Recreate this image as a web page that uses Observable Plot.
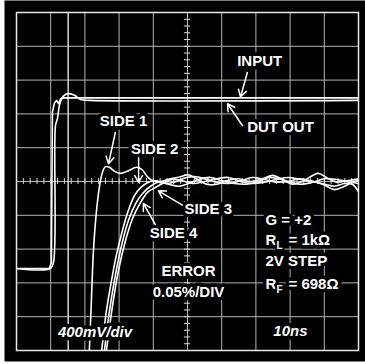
<!DOCTYPE html>
<html><head><meta charset="utf-8">
<script src="https://cdn.jsdelivr.net/npm/d3@7"></script>
<script src="https://cdn.jsdelivr.net/npm/@observablehq/plot@0.6"></script>
<style>html,body{margin:0;padding:0;background:#fff;}</style>
</head><body><div id="chart"></div>
<script>
// time axis: 10 ns/div, voltage: 400 mV/div, error: 0.05 %/div
const timeDivs = [0, 10, 20, 30, 40, 50, 60, 70, 80, 90, 100];
const voltDivs = [-2, -1.6, -1.2, -0.8, -0.4, 0, 0.4, 0.8, 1.2, 1.6, 2];
const markerT = 15.1;

const inputT = [0, 9.6, 10.2, 10.5, 11.1, 11.7, 12.3, 12.9, 14, 100];
const inputV = [-1.03, -1.03, -0.96, 0.82, 0.93, 0.96, 0.92, 0.98, 0.99, 0.99];
const dutT = [0, 9.9, 10.8, 11.4, 12.0, 12.6, 13.7, 15.2, 17.0, 18.7, 21.6, 100];
const dutV = [-1.03, -1.03, -0.96, 0.66, 0.75, 0.91, 1.01, 1.04, 1.02, 0.97, 0.96, 0.96];

const side1T = [20.9, 21.3, 21.9, 22.5, 23.4, 24.3, 25.1, 26.0, 27.2, 28.7, 30.4, 32.7, 35.1, 36.6, 38.3, 39.8, 42, 45, 48, 50.3, 52.6, 55.6, 58.5, 61.4, 64.9, 68.4, 71.9, 74.9, 77.8, 80.7, 83.6, 86.6, 88.3, 90.6, 93.6, 96.5, 100];
const side1E = [-0.3, -0.25, -0.176, -0.102, -0.043, -0.006, 0.013, 0.022, 0.021, 0.015, 0.012, 0.016, 0.021, 0.018, 0.007, 0.001, 0, 0.004, 0.007, 0.010, 0.004, -0.004, -0.004, 0.001, 0.004, 0, 0.004, 0.009, 0.003, -0.004, 0, 0.009, 0.012, 0.006, -0.001, 0.001, 0.004];
const side2T = [23.7, 24.9, 26.3, 27.8, 29.2, 31.0, 32.7, 34.5, 36.3, 38.6, 40.9, 43.9, 46.8, 49.7, 52.6, 55.6, 58.5, 62.0, 65.5, 69.0, 72.5, 76.0, 79.5, 82.5, 86.0, 89.5, 93.0, 95.9, 98.2, 100];
const side2E = [-0.3, -0.25, -0.191, -0.146, -0.109, -0.072, -0.043, -0.021, -0.009, -0.001, 0.001, -0.003, 0, 0.006, 0.007, 0.003, -0.001, -0.003, 0.001, 0.006, 0.003, -0.001, 0, 0.004, 0.001, -0.004, -0.012, -0.007, -0.001, 0.001];
const side3T = [24.4, 25.7, 27.2, 28.9, 30.7, 32.7, 34.8, 36.8, 39.2, 41.5, 44.4, 47.4, 50.3, 53.2, 56.7, 60.2, 63.7, 67.3, 70.8, 73.7, 76.6, 80.1, 83.0, 86.6, 90.1, 93.6, 96.5, 100];
const side3E = [-0.3, -0.25, -0.191, -0.139, -0.095, -0.058, -0.033, -0.018, -0.007, -0.001, -0.004, -0.007, -0.003, 0.003, 0.006, 0.001, -0.003, -0.004, 0, 0.006, 0.004, -0.001, -0.004, -0.001, 0.004, 0.003, 0, -0.003];
const side4T = [25.0, 26.3, 28.1, 29.8, 31.9, 33.9, 36.3, 38.3, 40.6, 42.7, 45.6, 48.5, 51.5, 55.0, 58.5, 62.0, 65.5, 69.0, 72.5, 76.0, 79.5, 83.0, 86.6, 90.1, 93.0, 95.9, 98.2, 100];
const side4E = [-0.3, -0.25, -0.183, -0.132, -0.087, -0.055, -0.031, -0.016, -0.009, -0.003, 0.003, 0.001, -0.003, 0, 0.004, 0.006, 0, -0.003, -0.001, 0.003, 0.006, 0.003, 0, -0.004, -0.007, -0.003, -0.004, -0.015];

const labelText = ["INPUT", "DUT OUT", "SIDE 1", "SIDE 2", "SIDE 3", "SIDE 4", "ERROR", "0.05%/DIV"];
const labelT = [71.1, 77.2, 31.3, 40.4, 56.1, 45.9, 50.3, 50.3];
const labelV = [1.42, 0.64, 0.71, 0.38, -0.33, -0.615, -1.065, -1.314];

const scaleText = ["400mV/div", "10ns"];
const scaleT = [22.95, 80.1];
const scaleV = [-1.787, -1.775];

const condT = 72.8;
const condMain = ["G = +2", "R", "2V STEP", "R"];
const condMainV = [-0.462, -0.698, -0.947, -1.219];
const condSub = ["L", "F"];
const condSubV = [-0.698, -1.219];
const condRest = ["= 1kΩ", "= 698Ω"];

const arrowFromT = [67.5, 66.1, 28.9, 35.7, 48.5, 40.6];
const arrowFromV = [1.29, 0.66, 0.58, 0.28, -0.28, -0.51];
const arrowToT = [65.5, 61.7, 26.9, 35.7, 41.5, 37.1];
const arrowToV = [1.0, 0.92, 0.21, -0.01, -0.11, -0.26];

const voltsPerPercent = 0.4 / 0.05;
const zip = (ts, vs) => ts.map((t, i) => ({t, v: vs[i]}));
const zipErr = (ts, es) => ts.map((t, i) => ({t, v: es[i] * voltsPerPercent}));
const errTraces = [zipErr(side1T, side1E), zipErr(side2T, side2E), zipErr(side3T, side3E), zipErr(side4T, side4E)];
const labels = labelText.map((s, i) => ({s, t: labelT[i], v: labelV[i]}));
const scales = scaleText.map((s, i) => ({s, t: scaleT[i], v: scaleV[i]}));
const arrows = arrowFromT.map((t, i) => ({x1: t, y1: arrowFromV[i], x2: arrowToT[i], y2: arrowToV[i]}));
const minorT = d3.range(0, 100.01, 2);
const minorV = d3.range(-2, 2.001, 0.08);

const font = "Liberation Sans, Arial, Helvetica, sans-serif";
const txt = {fill: "white", stroke: "black", strokeWidth: 7, fontWeight: "bold", fontSize: 15, fontFamily: font};

const chart = Plot.plot({
  width: 365, height: 364,
  marginLeft: 16, marginRight: 7, marginTop: 12, marginBottom: 14,
  x: {domain: [0, 100], axis: null},
  y: {domain: [-2, 2], axis: null},
  style: {background: "white"},
  marks: [
    Plot.frame({fill: "black", stroke: "none", insetLeft: -12, insetTop: -12, insetRight: -7, insetBottom: -11}),
    Plot.ruleX(timeDivs, {stroke: "#b4b4b4", strokeWidth: 1}),
    Plot.ruleY(voltDivs, {stroke: "#b4b4b4", strokeWidth: 1}),
    Plot.ruleX([markerT], {stroke: "#f4f4f4", strokeWidth: 1.3}),
    Plot.ruleX(minorT, {x: d => d, y1: -0.035, y2: 0.035, stroke: "#dddddd"}),
    Plot.ruleY(minorV, {y: d => d, x1: 49.1, x2: 50.9, stroke: "#dddddd"}),
    Plot.frame({stroke: "#e8e8e8", strokeWidth: 1.5}),
    Plot.line(zip(inputT, inputV), {x: "t", y: "v", stroke: "white", strokeWidth: 1.6, clip: true}),
    Plot.line(zip(dutT, dutV), {x: "t", y: "v", stroke: "white", strokeWidth: 1.6, curve: "catmull-rom", clip: true}),
    ...errTraces.map(d => Plot.line(d, {x: "t", y: "v", stroke: "white", strokeWidth: 1.6, curve: "catmull-rom", clip: true})),
    Plot.text(labels, {x: "t", y: "v", text: "s", ...txt}),
    Plot.text(scales, {x: "t", y: "v", text: "s", ...txt, fontStyle: "italic"}),
    Plot.text(condMain, {x: condT, y: (d, i) => condMainV[i], text: d => d, textAnchor: "start", ...txt}),
    Plot.text(condSub, {x: condT, y: (d, i) => condSubV[i], text: d => d, textAnchor: "start", dx: 11, dy: 5, ...txt, fontSize: 10, strokeWidth: 4}),
    Plot.text(condRest, {x: condT, y: (d, i) => condSubV[i], text: d => d, textAnchor: "start", dx: 23, ...txt}),
    Plot.arrow(arrows, {x1: "x1", y1: "y1", x2: "x2", y2: "y2", stroke: "white", strokeWidth: 1.5, headLength: 8})
  ]
});
document.getElementById("chart").appendChild(chart);
</script></body></html>
